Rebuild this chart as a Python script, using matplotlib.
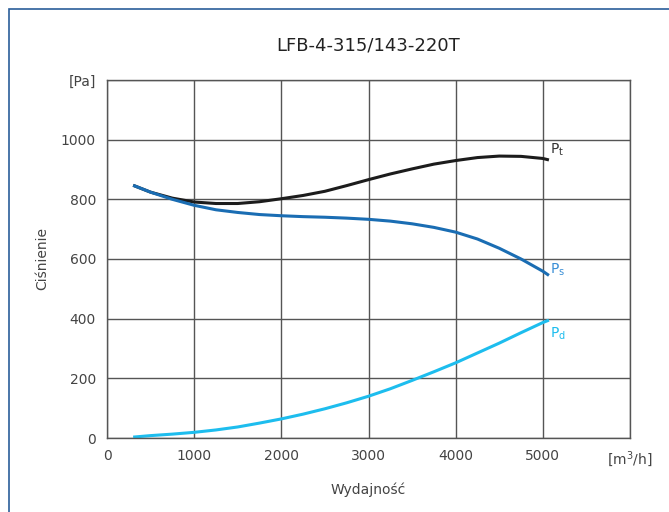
import matplotlib.pyplot as plt
from matplotlib.patches import Rectangle

plt.rcParams['font.family'] = ['Liberation Sans Narrow', 'DejaVu Sans']

# Wydajność [m3/h]
wydajnosc = [300, 500, 750, 1000, 1250, 1500, 1750, 2000, 2250, 2500, 2750,
             3000, 3250, 3500, 3750, 4000, 4250, 4500, 4750, 5000, 5070]
# ciśnienie całkowite
p_t = [847, 824, 804, 791, 786, 786, 792, 802, 813, 827, 846,
       866, 885, 902, 918, 930, 940, 945, 944, 937, 932]
# ciśnienie statyczne
p_s = [847, 824, 800, 780, 765, 756, 749, 745, 742, 740, 737,
       733, 727, 718, 706, 690, 667, 636, 600, 559, 545]
# ciśnienie dynamiczne
p_d = [3, 8, 13, 19, 27, 37, 50, 64, 80, 98, 118,
       140, 165, 193, 222, 252, 285, 318, 353, 387, 395]

x_ticks = [0, 1000, 2000, 3000, 4000, 5000, 6000]
x_labels = ['0', '1000', '2000', '3000', '4000', '5000', '[m$^3$/h]']
y_ticks = [0, 200, 400, 600, 800, 1000, 1200]
y_labels = ['0', '200', '400', '600', '800', '1000', '[Pa]']

fig = plt.figure(figsize=(6.69, 5.12), dpi=100)
ax = fig.add_axes([107 / 669, 1 - 438 / 512, (630 - 107) / 669, (438 - 80) / 512])

# ramka
fig.patches.append(Rectangle((9 / 669, -0.1), 1.2, 1 - 9 / 512 + 0.1,
                             transform=fig.transFigure, fill=False,
                             edgecolor='#2a5d9a', linewidth=1.2))

ax.plot(wydajnosc, p_t, color='#1c1c1c', linewidth=2.2, solid_capstyle='butt')
ax.plot(wydajnosc, p_s, color='#1a6db3', linewidth=2.2, solid_capstyle='butt')
ax.plot(wydajnosc, p_d, color='#1dbdee', linewidth=2.2, solid_capstyle='butt')

ax.text(5080, 965, 'P$_\\mathregular{t}$', color='#333333', fontsize=10, va='center')
ax.text(5080, 565, 'P$_\\mathregular{s}$', color='#3a8fd6', fontsize=10, va='center')
ax.text(5080, 350, 'P$_\\mathregular{d}$', color='#1dbdee', fontsize=10, va='center')

ax.set_xlim(0, 6000)
ax.set_ylim(0, 1200)
ax.set_xticks(x_ticks)
ax.set_xticklabels(x_labels)
ax.set_yticks(y_ticks)
ax.set_yticklabels(y_labels)
ax.tick_params(length=0, pad=8, labelsize=10, labelcolor='#444444')
ax.grid(True, color='#555555', linewidth=1)
for s in ax.spines.values():
    s.set_color('#555555')
    s.set_linewidth(1)

ax.set_title('LFB-4-315/143-220T', fontsize=13, color='#222222', pad=21)
ax.set_xlabel('Wydajność', fontsize=10, color='#444444', labelpad=10)
ax.set_ylabel('Ciśnienie', fontsize=10, color='#444444', labelpad=8)

fig.savefig('out.png', dpi=100)
